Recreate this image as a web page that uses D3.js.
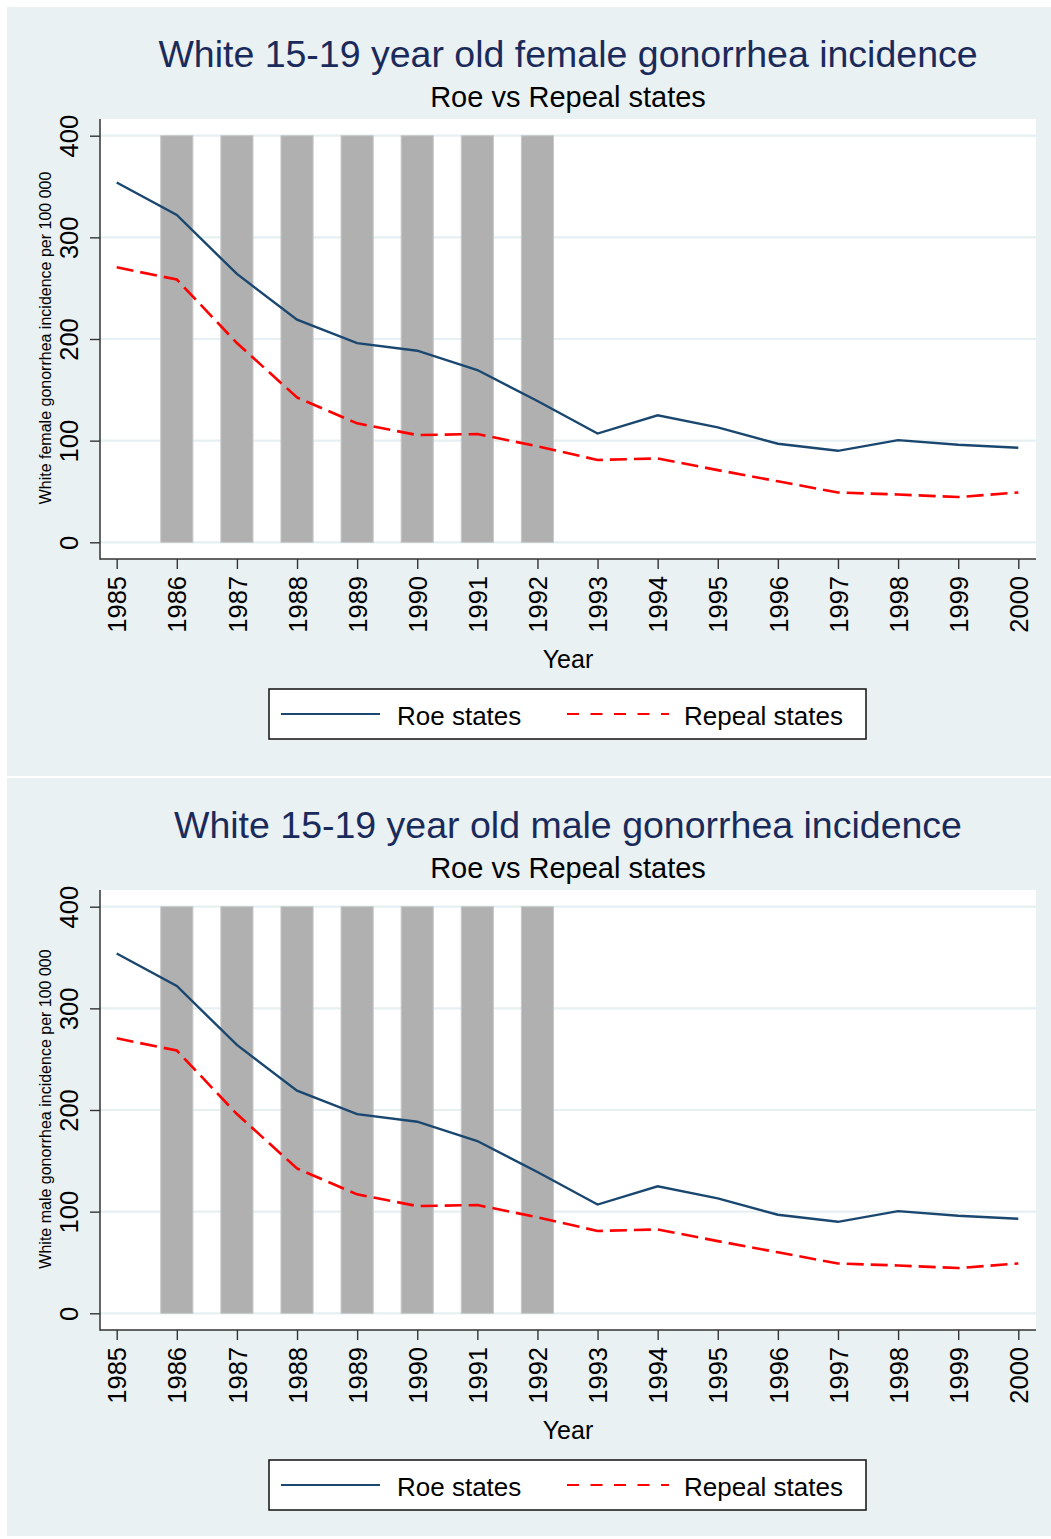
<!DOCTYPE html>
<html>
<head>
<meta charset="utf-8">
<script src="https://cdn.jsdelivr.net/npm/d3@7"></script>
<style>
  body { margin: 0; background: #fff; }
  svg { display: block; font-family: "Liberation Sans", Arial, Helvetica, sans-serif; }
</style>
</head>
<body>
<svg id="chart" width="1051" height="1539"></svg>
<script>
// year axis and the shaded years
const years = [1985, 1986, 1987, 1988, 1989, 1990, 1991, 1992, 1993, 1994, 1995, 1996, 1997, 1998, 1999, 2000];
const shadedYears = [1986, 1987, 1988, 1989, 1990, 1991, 1992];
const yTicks = [0, 100, 200, 300, 400];

// female panel (per 100 000)
const femaleRoe = [354, 322, 264, 219, 196, 188.5, 169.5, 139, 107, 125, 113, 97, 90, 100.5, 96, 93];
const femaleRepeal = [270.5, 258.5, 196, 142.5, 117, 105.5, 106.5, 94.5, 81, 82.5, 71, 60, 49, 47, 44.5, 49];

// male panel (per 100 000)
const maleRoe = [354, 322, 264, 219, 196, 188.5, 169.5, 139, 107, 125, 113, 97, 90, 100.5, 96, 93];
const maleRepeal = [270.5, 258.5, 196, 142.5, 117, 105.5, 106.5, 94.5, 81, 82.5, 71, 60, 49, 47, 44.5, 49];

const seriesNames = ["Roe states", "Repeal states"];

const BG = "#eaf1f3";
const ROE = "#1a476f";
const REPEAL = "#ff0000";

const svg = d3.select("#chart");

function drawPanel(dy, panelH, title, yTitle, roe, repeal) {
  const g = svg.append("g").attr("transform", `translate(0,${dy})`);

  g.append("rect")
    .attr("x", 7).attr("y", 7)
    .attr("width", 1044).attr("height", panelH)
    .attr("fill", BG);

  g.append("text")
    .attr("x", 568).attr("y", 67)
    .attr("text-anchor", "middle")
    .attr("font-size", 37.5)
    .attr("fill", "#1a2b5b")
    .text(title);

  g.append("text")
    .attr("x", 568).attr("y", 107)
    .attr("text-anchor", "middle")
    .attr("font-size", 29)
    .attr("fill", "#000")
    .text("Roe vs Repeal states");

  // plot region
  g.append("rect")
    .attr("x", 100).attr("y", 119)
    .attr("width", 936).attr("height", 440)
    .attr("fill", "#fff");

  const x = d3.scaleLinear().domain([1985, 2000]).range([116.7, 1018.3]);
  const y = d3.scaleLinear().domain([0, 400]).range([542.3, 135.7]);

  // grid
  g.append("g")
    .selectAll("line")
    .data(yTicks)
    .join("line")
    .attr("x1", 100).attr("x2", 1036)
    .attr("y1", d => y(d)).attr("y2", d => y(d))
    .attr("stroke", "#e6eff1")
    .attr("stroke-width", 2.2);

  // shaded years
  const barW = (x(1986) - x(1985)) * 0.535;
  g.append("g")
    .selectAll("rect")
    .data(shadedYears)
    .join("rect")
    .attr("x", d => x(d) - barW / 2)
    .attr("width", barW)
    .attr("y", y(400))
    .attr("height", y(0) - y(400))
    .attr("fill", "#b0b0b0")
    .attr("stroke", "#c8c8c8")
    .attr("stroke-width", 1);

  const line = d3.line()
    .x((d, i) => x(years[i]))
    .y(d => y(d));

  g.append("path")
    .datum(repeal)
    .attr("d", line)
    .attr("fill", "none")
    .attr("stroke", REPEAL)
    .attr("stroke-width", 2.6)
    .attr("stroke-dasharray", "17,7");

  g.append("path")
    .datum(roe)
    .attr("d", line)
    .attr("fill", "none")
    .attr("stroke", ROE)
    .attr("stroke-width", 2.4);

  // y axis
  const yAxis = g.append("g")
    .attr("transform", "translate(100,0)")
    .call(d3.axisLeft(y).tickValues(yTicks).tickSize(10).tickSizeOuter(0));
  yAxis.select(".domain").remove();
  yAxis.selectAll(".tick line").attr("stroke", "#333").attr("stroke-width", 1.4);
  yAxis.selectAll(".tick text")
    .attr("transform", "rotate(-90)")
    .attr("x", 0).attr("y", -22).attr("dy", 0)
    .attr("text-anchor", "middle")
    .attr("font-size", 25.5)
    .attr("font-family", null)
    .attr("fill", "#000");
  g.append("line")
    .attr("x1", 100).attr("x2", 100).attr("y1", 119).attr("y2", 559.7)
    .attr("stroke", "#333").attr("stroke-width", 1.5);

  // x axis
  const xAxis = g.append("g")
    .attr("transform", "translate(0,559)")
    .call(d3.axisBottom(x).tickValues(years).tickFormat(d3.format("d")).tickSize(10).tickSizeOuter(0));
  xAxis.select(".domain").remove();
  xAxis.selectAll(".tick line").attr("stroke", "#333").attr("stroke-width", 1.4);
  xAxis.selectAll(".tick text")
    .attr("transform", "rotate(-90)")
    .attr("x", -17).attr("y", 0).attr("dy", "0.36em")
    .attr("text-anchor", "end")
    .attr("font-size", 25.5)
    .attr("font-family", null)
    .attr("fill", "#000");
  g.append("line")
    .attr("x1", 100).attr("x2", 1036).attr("y1", 559).attr("y2", 559)
    .attr("stroke", "#333").attr("stroke-width", 1.5);

  // axis titles
  g.append("text")
    .attr("transform", "translate(51,338) rotate(-90)")
    .attr("text-anchor", "middle")
    .attr("font-size", 16)
    .attr("fill", "#000")
    .text(yTitle);

  g.append("text")
    .attr("x", 568).attr("y", 668)
    .attr("text-anchor", "middle")
    .attr("font-size", 25)
    .attr("fill", "#000")
    .text("Year");

  // legend
  const lg = g.append("g");
  lg.append("rect")
    .attr("x", 269).attr("y", 689)
    .attr("width", 597).attr("height", 50)
    .attr("fill", "#fff")
    .attr("stroke", "#111").attr("stroke-width", 1.5);

  lg.append("line")
    .attr("x1", 281).attr("x2", 380).attr("y1", 714).attr("y2", 714)
    .attr("stroke", ROE).attr("stroke-width", 2.2);
  lg.append("text")
    .attr("x", 397).attr("y", 725)
    .attr("font-size", 26)
    .text(seriesNames[0]);

  lg.append("line")
    .attr("x1", 567).attr("x2", 669).attr("y1", 714).attr("y2", 714)
    .attr("stroke", REPEAL).attr("stroke-width", 2.2)
    .attr("stroke-dasharray", "12,11.5");
  lg.append("text")
    .attr("x", 684).attr("y", 725)
    .attr("font-size", 26)
    .text(seriesNames[1]);
}

drawPanel(0, 769, "White 15-19 year old female gonorrhea incidence",
  "White female gonorrhea incidence per 100 000", femaleRoe, femaleRepeal);
drawPanel(771, 758, "White 15-19 year old male gonorrhea incidence",
  "White male gonorrhea incidence per 100 000", maleRoe, maleRepeal);
</script>
</body>
</html>
